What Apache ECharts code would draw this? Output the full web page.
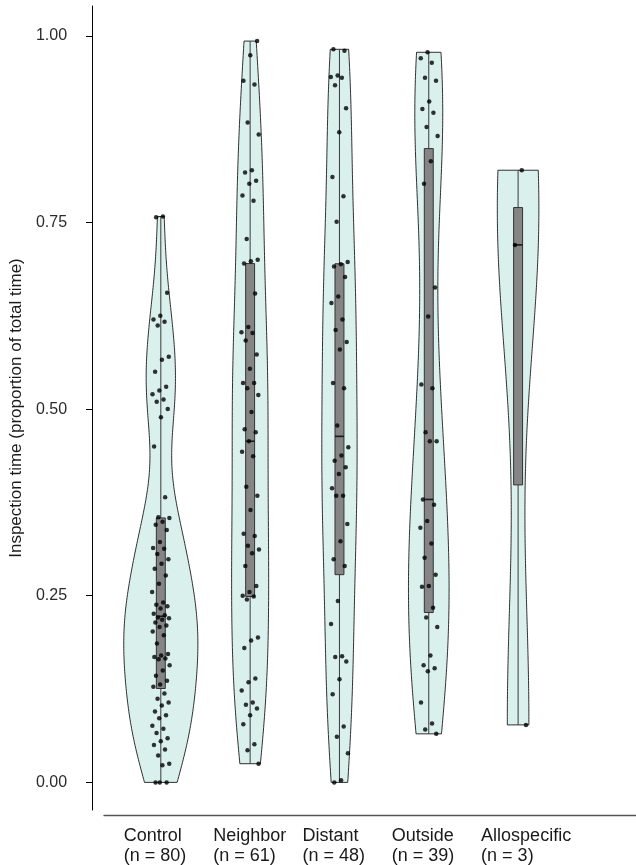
<!DOCTYPE html>
<html>
<head>
<meta charset="utf-8">
<script src="https://cdn.jsdelivr.net/npm/echarts@6/dist/echarts.min.js"></script>
<style>
html,body{margin:0;padding:0;background:#fff;}
#main{width:636px;height:865px;}
</style>
</head>
<body>
<div id="main"></div>
<script>
// categories + tick labels
var categories = ['Control', 'Neighbor', 'Distant', 'Outside', 'Allospecific'];
var yTicks = [0, 0.25, 0.5, 0.75, 1];

// inspection time per plant
var controlVals = [0.758, 0.757, 0.656, 0.625, 0.62, 0.617, 0.612, 0.57, 0.566, 0.55, 0.53, 0.525, 0.52, 0.513, 0.51, 0.5, 0.489, 0.45, 0.382, 0.355, 0.354,
    0.349, 0.345, 0.338, 0.322, 0.314, 0.313, 0.306, 0.299, 0.293, 0.286, 0.277, 0.266, 0.255, 0.241, 0.238, 0.236, 0.233, 0.226, 0.224, 0.221,
    0.22, 0.218, 0.214, 0.21, 0.208, 0.202, 0.197, 0.186, 0.172, 0.17, 0.168, 0.166, 0.165, 0.157, 0.15, 0.143, 0.136, 0.131, 0.128,
    0.119, 0.112, 0.107, 0.103, 0.095, 0.09, 0.086, 0.076, 0.072, 0.066, 0.059, 0.055, 0.05, 0.044, 0.036, 0.025, 0.023, 0, 0, 0];
var neighborVals = [0.993, 0.974, 0.94, 0.935, 0.884, 0.868, 0.82, 0.817, 0.806, 0.802, 0.786, 0.779, 0.728, 0.70, 0.698, 0.695, 0.655, 0.61, 0.603, 0.602,
    0.592, 0.573, 0.554, 0.535, 0.535, 0.528, 0.519, 0.496, 0.473, 0.469, 0.457, 0.443, 0.437, 0.396, 0.384, 0.365, 0.333, 0.33, 0.317, 0.312,
    0.307, 0.29, 0.263, 0.255, 0.25, 0.249, 0.245, 0.194, 0.19, 0.18, 0.139, 0.134, 0.123, 0.107, 0.104, 0.099, 0.09, 0.078, 0.051, 0.043, 0.025];
var distantVals = [0.982, 0.98, 0.947, 0.945, 0.944, 0.934, 0.903, 0.871, 0.811, 0.785, 0.751, 0.697, 0.694, 0.691, 0.677, 0.651, 0.642, 0.62, 0.606, 0.59, 0.58, 0.535, 0.528,
    0.478, 0.449, 0.438, 0.431, 0.422, 0.413, 0.394, 0.384, 0.384, 0.346, 0.323, 0.299, 0.29, 0.243, 0.212, 0.169, 0.168, 0.162, 0.138, 0.118, 0.075, 0.061, 0.039, 0.003, 0];
var outsideVals = [0.978, 0.97, 0.964, 0.944, 0.94, 0.912, 0.902, 0.897, 0.878, 0.866, 0.832, 0.802, 0.663, 0.624, 0.533, 0.528,
    0.469, 0.457, 0.457, 0.379, 0.372, 0.35, 0.341, 0.32, 0.301, 0.278, 0.263, 0.262, 0.234, 0.221, 0.208, 0.17, 0.157, 0.153, 0.149, 0.107, 0.079, 0.071, 0.065];
var alloVals = [0.82, 0.72, 0.077];

var groups = [controlVals, neighborVals, distantVals, outsideVals, alloVals];

var VIOLIN_HALF = 0.415;   // half width of the widest violin, in category units
var BOX_HALF = 0.05;

function sortNum(a){ return a.slice().sort(function(x,y){return x-y;}); }

// type 7 quantile (same as R default)
function quantile(s, p){
    var h = (s.length - 1) * p;
    var lo = Math.floor(h);
    var hi = Math.min(lo + 1, s.length - 1);
    return s[lo] + (h - lo) * (s[hi] - s[lo]);
}

function bwNrd0(vals){
    var n = vals.length;
    var mean = 0;
    vals.forEach(function(v){ mean += v; });
    mean = mean / n;
    var ss = 0;
    vals.forEach(function(v){ ss += (v - mean) * (v - mean); });
    var sd = Math.sqrt(ss / (n - 1));
    var s = sortNum(vals);
    var iqr = quantile(s, 0.75) - quantile(s, 0.25);
    var lo = Math.min(sd, iqr / 1.34);
    if (!(lo > 0)) lo = sd || 1;
    return 0.9 * lo * Math.pow(n, -0.2);
}

// gaussian kde trimmed to the data range
function density(vals){
    var s = sortNum(vals);
    var bw = bwNrd0(vals);
    var lo = s[0], hi = s[s.length - 1];
    var out = [];
    for (var k = 0; k < 200; k++) {
        var y = lo + (hi - lo) * k / 199;
        var d = 0;
        for (var j = 0; j < s.length; j++) {
            var z = (y - s[j]) / bw;
            d += Math.exp(-0.5 * z * z);
        }
        out.push([y, d / (s.length * bw * Math.sqrt(2 * Math.PI))]);
    }
    return out;
}

var profiles = groups.map(density);
var maxDens = 0;
profiles.forEach(function(p){ p.forEach(function(r){ if (r[1] > maxDens) maxDens = r[1]; }); });

var boxData = groups.map(function(g, i){
    var s = sortNum(g);
    return [i, quantile(s, 0.25), quantile(s, 0.5), quantile(s, 0.75), s[0], s[s.length - 1]];
});

// jitter for the points (deterministic)
function jitter(i, k){
    var f = ((k + 1) * 0.6180339887 + i * 0.2718) % 1;
    return (f - 0.5) * 0.2;
}
var pointData = [];
groups.forEach(function(g, i){
    g.forEach(function(v, k){ pointData.push([i + jitter(i, k), v]); });
});

var myChart = echarts.init(document.getElementById('main'), null, {renderer: 'canvas'});

var option = {
    backgroundColor: '#ffffff',
    animation: false,
    grid: [
        {left: 91, right: 0, top: 6, bottom: 53},
        {left: 104, right: 0, top: 6, bottom: 53}
    ],
    xAxis: [
        {
            type: 'value', gridIndex: 0, min: -0.77, max: 5.32,
            axisLine: {show: false, onZero: false}, axisTick: {show: false}, splitLine: {show: false},
            axisLabel: {
                customValues: [0, 1, 2, 3, 4],
                margin: 16,
                align: 'center',
                formatter: function(v){
                    var i = Math.round(v);
                    return '{a|' + categories[i] + '}\n{a|(n = ' + groups[i].length + ')}';
                },
                rich: {
                    a: {width: 74, align: 'left', fontSize: 18, lineHeight: 20, color: '#1a1a1a', fontFamily: 'Liberation Sans'}
                }
            }
        },
        {
            type: 'value', gridIndex: 1, min: 0, max: 1, offset: 3,
            axisLine: {show: true, onZero: false, lineStyle: {color: '#555555', width: 1.4}},
            axisTick: {show: false}, axisLabel: {show: false}, splitLine: {show: false}
        }
    ],
    yAxis: [
        {
            type: 'value', gridIndex: 0, min: -0.037, max: 1.04,
            name: 'Inspection time (proportion of total time)',
            nameLocation: 'middle', nameGap: 64,
            nameTextStyle: {fontSize: 17, color: '#1a1a1a', fontFamily: 'Liberation Sans'},
            axisLine: {show: true, onZero: false, lineStyle: {color: '#000', width: 1}},
            axisTick: {show: true, customValues: yTicks, length: 6, lineStyle: {color: '#000'}},
            axisLabel: {
                customValues: yTicks, margin: 25, fontSize: 16, color: '#2b2b2b',
                fontFamily: 'Liberation Sans',
                formatter: function(v){ return v.toFixed(2); }
            },
            splitLine: {show: false}
        },
        {type: 'value', gridIndex: 1, min: -0.037, max: 1.04, show: false}
    ],
    series: [
        {
            // violins
            type: 'custom', xAxisIndex: 0, yAxisIndex: 0, silent: true, z: 1,
            data: categories.map(function(c, i){ return [i, 0]; }),
            encode: {x: 0, y: 1},
            renderItem: function(params, api){
                var i = api.value(0);
                var prof = profiles[i];
                var left = [], right = [];
                prof.forEach(function(r){
                    var w = VIOLIN_HALF * r[1] / maxDens;
                    left.push(api.coord([i - w, r[0]]));
                    right.push(api.coord([i + w, r[0]]));
                });
                var pts = left.concat(right.reverse());
                return {
                    type: 'polygon',
                    shape: {points: pts},
                    style: {fill: '#daf0ed', stroke: '#1a1a1a', lineWidth: 0.9}
                };
            }
        },
        {
            // box + whisker
            type: 'custom', xAxisIndex: 0, yAxisIndex: 0, silent: true, z: 2,
            data: boxData,
            encode: {x: 0, y: [1, 2, 3, 4, 5]},
            renderItem: function(params, api){
                var i = api.value(0);
                var top = api.coord([i, api.value(5)]);
                var bot = api.coord([i, api.value(4)]);
                var q3l = api.coord([i - BOX_HALF, api.value(3)]);
                var q1r = api.coord([i + BOX_HALF, api.value(1)]);
                var ml = api.coord([i - BOX_HALF, api.value(2)]);
                var mr = api.coord([i + BOX_HALF, api.value(2)]);
                return {
                    type: 'group',
                    children: [
                        {type: 'line', shape: {x1: top[0], y1: top[1], x2: bot[0], y2: bot[1]},
                            style: {stroke: '#3a3a3a', lineWidth: 1}},
                        {type: 'rect', shape: {x: q3l[0], y: q3l[1], width: q1r[0] - q3l[0], height: q1r[1] - q3l[1]},
                            style: {fill: '#858585', stroke: '#333333', lineWidth: 1}},
                        {type: 'line', shape: {x1: ml[0], y1: ml[1], x2: mr[0], y2: mr[1]},
                            style: {stroke: '#1a1a1a', lineWidth: 1.6}}
                    ]
                };
            }
        },
        {
            type: 'scatter', xAxisIndex: 0, yAxisIndex: 0, silent: true, z: 3,
            symbolSize: 4.5,
            itemStyle: {color: '#000000'},
            data: pointData
        }
    ]
};
myChart.setOption(option);
</script>
</body>
</html>
